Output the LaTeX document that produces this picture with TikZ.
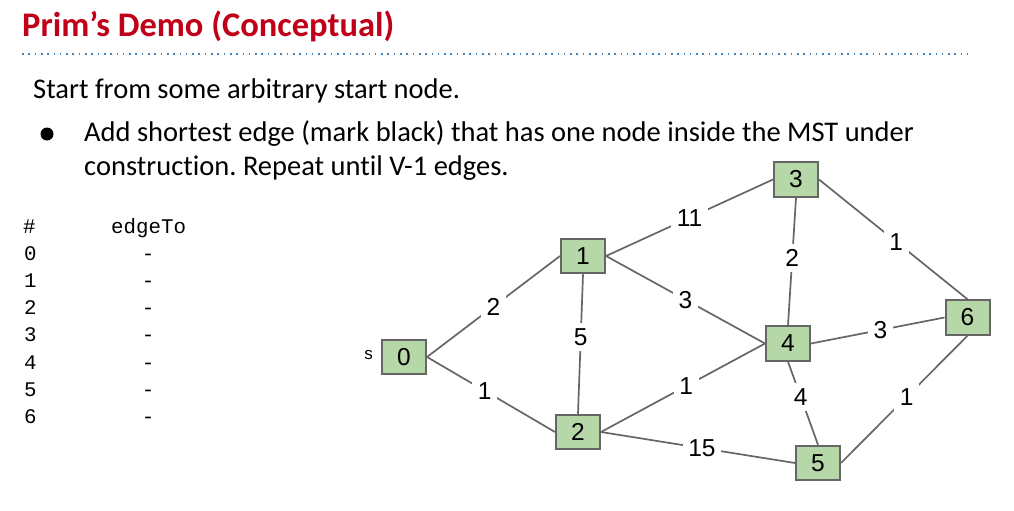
\documentclass[tikz,border=0pt]{standalone}
\usepackage{fontspec}
\setmainfont{Carlito}[Ligatures=NoCommon]
\newfontfamily\arialf{Liberation Sans}
\newfontfamily\monof{Liberation Mono}
\definecolor{titlered}{RGB}{192,0,24}
\definecolor{dotblue}{RGB}{61,133,198}
\definecolor{nodefill}{RGB}{182,215,168}
\definecolor{edgegray}{RGB}{102,102,102}
\tikzset{
  vbox/.style={draw=edgegray, line width=2pt, fill=nodefill, minimum width=44pt, minimum height=34.5pt, inner sep=0pt, font=\arialf\fontsize{24.5}{24.5}\selectfont},
  wedge/.style={draw=edgegray, line width=1.7pt},
  wlab/.style={fill=white, inner sep=5.5pt, font=\arialf\fontsize{24.5}{24.5}\selectfont},
  txt/.style={anchor=base west, inner sep=0pt},
  mono/.style={anchor=base west, inner sep=0pt, font=\monof\fontsize{20.8}{20.8}\selectfont},
}
\frenchspacing
\begin{document}
\begin{tikzpicture}[x=1pt,y=-1pt]
\useasboundingbox (0,0) rectangle (1014,511);
% title
\node[txt, text=titlered, font=\bfseries\fontsize{34.5}{34.5}\selectfont] (title) at (22,37) {Prim’s Demo (Conceptual)};
\draw[dotblue, line width=2pt, dash pattern=on 1.6pt off 4.7pt] (22,54) -- (968,54);
% body text
\node[txt, font=\fontsize{28.5}{28.5}\selectfont] (l1) at (33,98) {Start from some arbitrary start node.};
\fill (47,134) circle (6.5pt);
\node[txt, font=\fontsize{28.5}{28.5}\selectfont] (l2) at (84,141) {Add shortest edge (mark black) that has one node inside the MST under};
\node[txt, font=\fontsize{28.5}{28.5}\selectfont] (l3) at (84,175) {construction. Repeat until V-1 edges.};
% table
\node[mono] (hh) at (23,233) {\#};
\node[mono] (he) at (111,233) {edgeTo};
\foreach \k in {0,...,6}{
  \node[mono] (r\k) at (24,{260+27.3*\k}) {\k};
  \node[mono, anchor=base] (d\k) at (148,{260+27.3*\k}) {-};
}
% graph nodes
\node[vbox] (n0) at (404,357) {0};
\node[vbox] (n1) at (583,256) {1};
\node[vbox] (n2) at (578,432) {2};
\node[vbox] (n3) at (796,179.5) {3};
\node[vbox] (n4) at (788,343.5) {4};
\node[vbox] (n5) at (818,463) {5};
\node[vbox] (n6) at (967.5,317.5) {6};
\node[font=\arialf\fontsize{17}{17}\selectfont, anchor=east, inner sep=0pt] (slab) at (373,355) {s};
% edges
\draw[wedge] (n0.east) -- node[wlab, pos=0.5] {2} (n1.west);
\draw[wedge] (n0.east) -- node[wlab, pos=0.45] {1} (n2.west);
\draw[wedge] (n1.south) -- node[wlab, pos=0.45] {5} (n2.north);
\draw[wedge] (n1.east) -- node[wlab, pos=0.5] {11} (n3.west);
\draw[wedge] (n1.east) -- node[wlab, pos=0.5] {3} (n4.west);
\draw[wedge] (n2.east) -- node[wlab, pos=0.52] {1} (n4.west);
\draw[wedge] (n2.east) -- node[wlab, pos=0.52] {15} (n5.west);
\draw[wedge] (n3.south) -- node[wlab, pos=0.47] {2} (n4.north);
\draw[wedge] (n3.east) -- node[wlab, pos=0.52] {1} (n6.north);
\draw[wedge] (n4.east) -- node[wlab, pos=0.52] {3} (n6.west);
\draw[wedge] (n4.south) -- node[wlab, pos=0.42] {4} (n5.north);
\draw[wedge] (n5.east) -- node[wlab, pos=0.52] {1} (n6.south);
\end{tikzpicture}
\end{document}
